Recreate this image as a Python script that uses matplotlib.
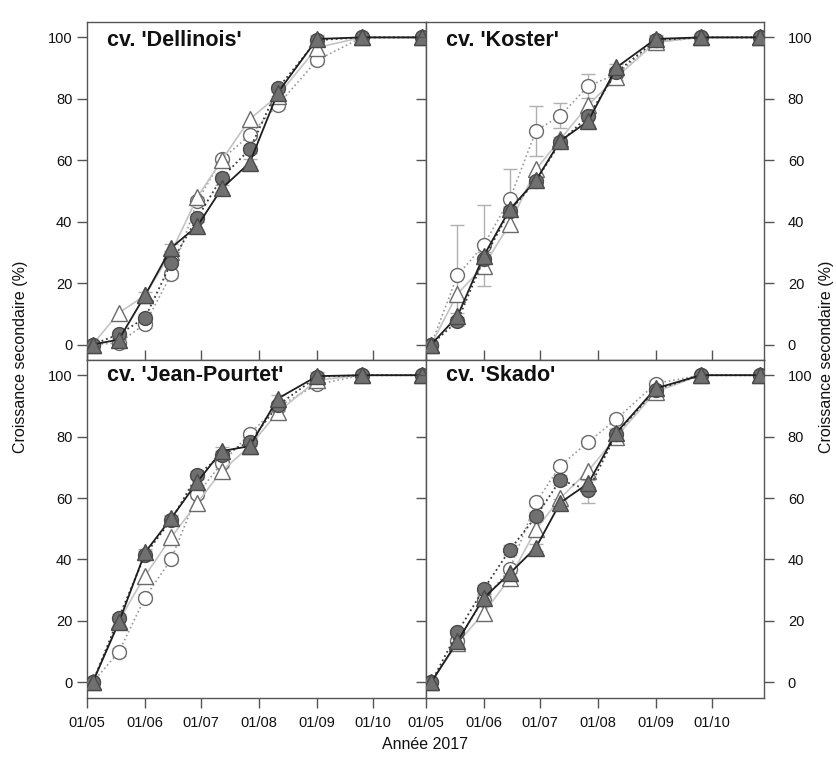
import numpy as np
import matplotlib.pyplot as plt
import matplotlib.dates as mdates
from datetime import date

plt.rcParams['font.family'] = ['Liberation Sans', 'DejaVu Sans']

# dates de mesure (2017)
dates = [date(2017, 5, 4), date(2017, 5, 18), date(2017, 6, 1), date(2017, 6, 15),
         date(2017, 6, 29), date(2017, 7, 12), date(2017, 7, 27), date(2017, 8, 11),
         date(2017, 9, 1), date(2017, 9, 25), date(2017, 10, 27)]

cultivars = ["cv. 'Dellinois'", "cv. 'Koster'", "cv. 'Jean-Pourtet'", "cv. 'Skado'"]

# Dellinois
dell_fc = [0, 3.3, 8.7, 26.6, 41.3, 54.3, 63.6, 83.4, 99.1, 100, 100]
dell_oc = [0, 0.5, 6.7, 22.8, 46.7, 60.3, 68.2, 78.0, 92.6, 100, 100]
dell_ot = [0, 10.3, 16.0, 30.0, 48.0, 60.0, 73.4, 81.0, 96.7, 100, 100]
dell_ft = [0, 1.6, 16.0, 31.5, 38.6, 50.8, 59.2, 82.0, 99.5, 100, 100]
# Koster
kos_fc = [0, 7.6, 27.7, 43.5, 53.3, 65.8, 74.5, 88.6, 99.1, 100, 100]
kos_oc = [0, 22.5, 32.3, 47.3, 69.6, 74.5, 84.2, 88.0, 98.5, 100, 100]
kos_ot = [0, 16.5, 25.5, 39.3, 57.0, 66.8, 78.0, 87.0, 98.4, 100, 100]
kos_ft = [0, 9.2, 28.8, 44.0, 53.5, 66.3, 72.8, 90.2, 99.5, 100, 100]
kos_oc_err = [0, 16.4, 13.2, 9.8, 8.2, 4.0, 4.0, 2.0, 1.0, 0, 0]
# Jean-Pourtet
jp_fc = [0, 21.1, 41.5, 52.9, 67.5, 74.0, 78.3, 90.2, 99.5, 100, 100]
jp_oc = [0, 9.9, 27.6, 40.1, 61.3, 71.3, 81.0, 89.7, 97.0, 100, 100]
jp_ot = [0, 20.0, 34.7, 47.2, 58.5, 68.8, 76.9, 88.0, 98.4, 100, 100]
jp_ft = [0, 19.5, 42.3, 53.4, 65.3, 75.3, 76.9, 92.4, 99.7, 100, 100]
# Skado
sk_fc = [0, 16.3, 30.3, 43.1, 54.0, 65.9, 62.6, 81.0, 95.3, 100, 100]
sk_oc = [0, 13.3, 26.9, 36.8, 58.6, 70.5, 78.3, 85.7, 97.3, 100, 100]
sk_ot = [0, 12.8, 22.5, 33.9, 49.8, 60.0, 68.9, 80.0, 94.6, 100, 100]
sk_ft = [0, 13.3, 27.4, 35.5, 43.9, 58.5, 64.8, 81.3, 95.7, 100, 100]
sk_fc_err = [0, 1.0, 1.5, 1.5, 1.5, 1.5, 4.3, 1.5, 1.0, 0, 0]

series = [
    (dell_fc, dell_oc, dell_ot, dell_ft, None, None),
    (kos_fc, kos_oc, kos_ot, kos_ft, None, kos_oc_err),
    (jp_fc, jp_oc, jp_ot, jp_ft, None, None),
    (sk_fc, sk_oc, sk_ot, sk_ft, sk_fc_err, None),
]

fig, axes = plt.subplots(2, 2, figsize=(8.37, 7.6), dpi=100)
fig.subplots_adjust(left=0.104, right=0.913, top=0.971, bottom=0.082, wspace=0, hspace=0)

edge = '#555555'
for i, ax in enumerate(axes.flat):
    fc, oc, ot, ft, fc_err, oc_err = series[i]
    small = [0.0] + [1.2] * 8 + [0.0, 0.0]
    e_fc = fc_err if fc_err else small
    e_oc = oc_err if oc_err else small
    ecol = '#b0b0b0'
    ax.errorbar(dates, oc, yerr=e_oc, fmt='none', ecolor=ecol, elinewidth=1, capsize=5, zorder=1)
    ax.errorbar(dates, fc, yerr=e_fc, fmt='none', ecolor=ecol, elinewidth=1, capsize=5, zorder=1)
    ax.errorbar(dates, ft, yerr=small, fmt='none', ecolor=ecol, elinewidth=1, capsize=5, zorder=1)
    ax.plot(dates, oc, ls=':', color='#9a9a9a', lw=1.2, marker='o', ms=10,
            mfc='white', mec='#6a6a6a', mew=1, zorder=2)
    ax.plot(dates, ot, ls='-', color='#c4c4c4', lw=1.2, marker='^', ms=11,
            mfc='white', mec='#6a6a6a', mew=1, zorder=3)
    ax.plot(dates, fc, ls=':', color='#3a3a3a', lw=1.3, marker='o', ms=10,
            mfc='#707070', mec='#4a4a4a', mew=1, zorder=4)
    ax.plot(dates, ft, ls='-', color='#1e1e1e', lw=1.3, marker='^', ms=11,
            mfc='#707070', mec='#4a4a4a', mew=1, zorder=5)

    ax.set_xlim(date(2017, 5, 1), date(2017, 10, 29))
    ax.set_ylim(-5, 105)
    ax.set_yticks([0, 20, 40, 60, 80, 100])
    ax.xaxis.set_major_locator(mdates.MonthLocator())
    ax.xaxis.set_major_formatter(mdates.DateFormatter('%d/%m'))
    for s in ax.spines.values():
        s.set_color(edge)
        s.set_linewidth(1)
    ax.tick_params(colors=edge, labelcolor='#111111', labelsize=10.5, length=7, width=1)

    top_row = i < 2
    left_col = i % 2 == 0
    ax.tick_params(axis='x', top=False, bottom=True,
                   direction='in' if top_row else 'out',
                   labelbottom=not top_row, pad=6)
    if left_col:
        ax.tick_params(axis='y', left=True, right=False, labelleft=True,
                       labelright=False, direction='out')
    else:
        ax.tick_params(axis='y', left=True, right=True, labelleft=False,
                       labelright=True, direction='out', pad=10)
    ax.text(0.06, 0.945 if top_row else 0.955, cultivars[i], transform=ax.transAxes,
            fontsize=15.5, fontweight='bold', va='center', ha='left', color='#111111')
    ax.set_facecolor('white')

fig.text(0.025, 0.53, 'Croissance secondaire (%)', rotation=90, va='center', ha='center',
         fontsize=11.5, color='#111111')
fig.text(0.988, 0.53, 'Croissance secondaire (%)', rotation=90, va='center', ha='center',
         fontsize=11.5, color='#111111')
fig.text(0.508, 0.02, 'Année 2017', va='center', ha='center', fontsize=11.5, color='#111111')

fig.savefig('out.png', dpi=100)
